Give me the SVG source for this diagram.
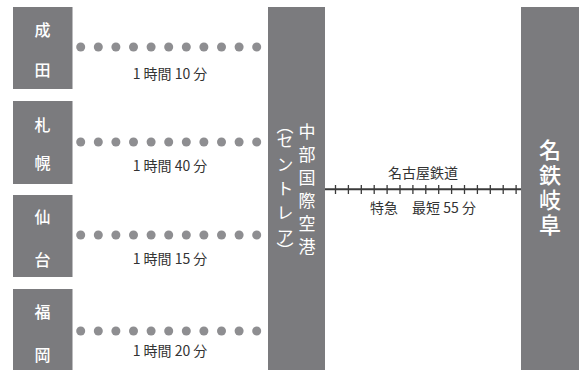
<svg xmlns="http://www.w3.org/2000/svg" width="588" height="370" viewBox="0 0 588 370">
<style>
.box{fill:#7b7b7e}
.dot{fill:#8e8e91}
.bt{font-family:"Noto Sans CJK JP",sans-serif;font-size:16px;font-weight:500;fill:#fff;text-anchor:middle}
.vt{font-family:"Noto Sans CJK JP",sans-serif;font-size:17px;fill:#fff;writing-mode:vertical-rl}
.big{font-family:"Noto Sans CJK JP",sans-serif;font-size:22px;font-weight:500;fill:#fff;writing-mode:vertical-rl;letter-spacing:3px}
.lbl{font-family:"Noto Sans CJK JP",sans-serif;font-size:14px;fill:#333;text-anchor:middle}
.rail{stroke:#3a3a3a;stroke-width:2;fill:none}
.tick{stroke:#3a3a3a;stroke-width:1.3}
</style>
<defs>
<g id="dots">
<circle class="dot" cx="80.7" cy="0" r="4.5"/><circle class="dot" cx="98.3" cy="0" r="4.5"/><circle class="dot" cx="115.9" cy="0" r="4.5"/><circle class="dot" cx="133.5" cy="0" r="4.5"/><circle class="dot" cx="151.1" cy="0" r="4.5"/><circle class="dot" cx="168.7" cy="0" r="4.5"/><circle class="dot" cx="186.3" cy="0" r="4.5"/><circle class="dot" cx="203.9" cy="0" r="4.5"/><circle class="dot" cx="221.5" cy="0" r="4.5"/><circle class="dot" cx="239.1" cy="0" r="4.5"/><circle class="dot" cx="256.7" cy="0" r="4.5"/>
</g>
</defs>
<rect width="588" height="370" fill="#fff"/>
<g id="narita">
<rect class="box" x="13" y="7" width="59.5" height="82"/>
<text class="bt" x="42.5" y="36">成</text><text class="bt" x="42.5" y="76">田</text>
</g>
<g id="sapporo">
<rect class="box" x="13" y="101" width="59.5" height="83"/>
<text class="bt" x="42.5" y="131">札</text><text class="bt" x="42.5" y="169">幌</text>
</g>
<g id="sendai">
<rect class="box" x="13" y="195" width="59.5" height="82"/>
<text class="bt" x="42.5" y="223">仙</text><text class="bt" x="42.5" y="266">台</text>
</g>
<g id="fukuoka">
<rect class="box" x="13" y="289" width="59.5" height="81"/>
<text class="bt" x="42.5" y="318">福</text><text class="bt" x="42.5" y="361">岡</text>
</g>
<g id="centrair">
<rect class="box" x="268" y="7" width="57" height="363"/>
<text class="vt" x="307" y="123.5" letter-spacing="6">中部国際空港</text>
<text class="vt" x="285" y="117"><tspan letter-spacing="-2.5">（</tspan><tspan letter-spacing="7">セントレ</tspan><tspan letter-spacing="-2.5">ア）</tspan></text>
</g>
<g id="meitetsu-gifu">
<rect class="box" x="521" y="7" width="58" height="363"/>
<text class="big" x="550" y="139">名鉄岐阜</text>
</g>
<g id="connectors">
<use href="#dots" y="47"/>
<use href="#dots" y="142"/>
<use href="#dots" y="235"/>
<use href="#dots" y="331"/>
<line class="rail" x1="325" y1="189.3" x2="521" y2="189.3"/>
<path class="tick" d="M335.5 185v9M348.4 185v9M361.3 185v9M374.2 185v9M387.1 185v9M400 185v9M412.9 185v9M425.8 185v9M438.7 185v9M451.6 185v9M464.5 185v9M477.4 185v9M490.3 185v9M503.2 185v9M516.1 185v9"/>
<text class="lbl" x="170" y="79">1 時間 10 分</text>
<text class="lbl" x="170" y="171">1 時間 40 分</text>
<text class="lbl" x="170" y="264">1 時間 15 分</text>
<text class="lbl" x="170" y="356">1 時間 20 分</text>
<text class="lbl" x="423" y="178">名古屋鉄道</text>
<text class="lbl" x="423" y="213">特急　最短 55 分</text>
</g>
</svg>
